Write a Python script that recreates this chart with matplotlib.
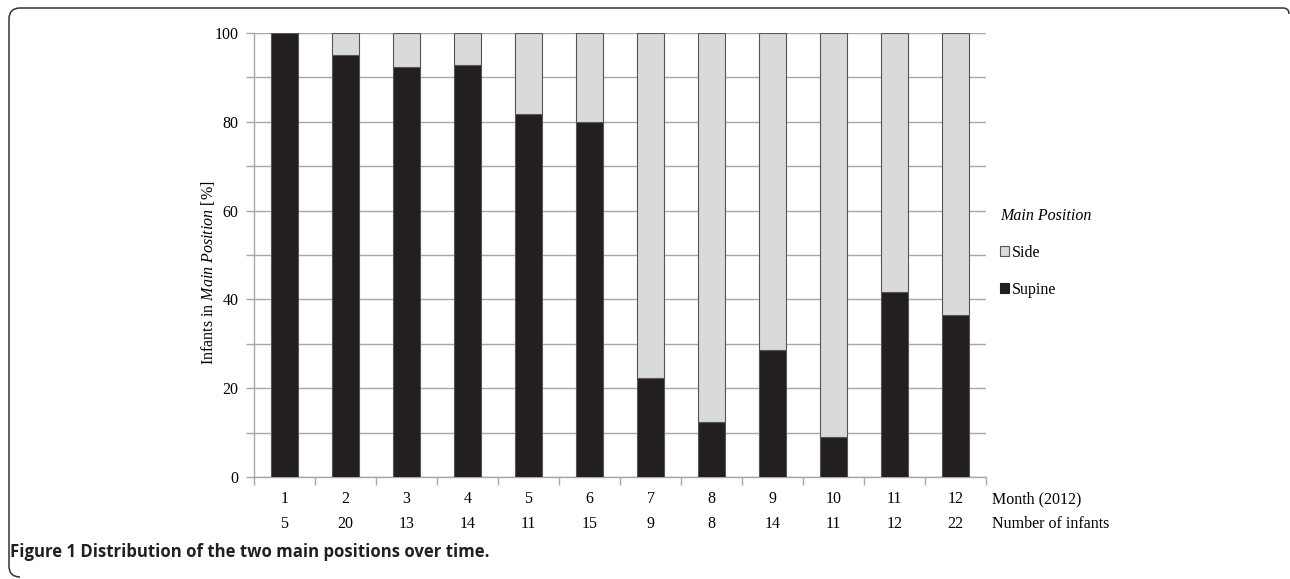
import numpy as np
import matplotlib
matplotlib.use('Agg')
import matplotlib.pyplot as plt
from matplotlib.patches import Patch, PathPatch
from matplotlib.path import Path
from matplotlib.ticker import MultipleLocator
import matplotlib.transforms as mtransforms

rcp = matplotlib.rcParams
rcp['font.family'] = 'Liberation Serif'
rcp['mathtext.fontset'] = 'custom'
rcp['mathtext.rm'] = 'Liberation Serif'
rcp['mathtext.it'] = 'Liberation Serif:italic'

# data: supine share per month, infants per month
months = ['1', '2', '3', '4', '5', '6', '7', '8', '9', '10', '11', '12']
n_infants = ['5', '20', '13', '14', '11', '15', '9', '8', '14', '11', '12', '22']
supine = [100, 95.0, 92.3, 92.9, 81.8, 80.0, 22.2, 12.5, 28.6, 9.1, 41.7, 36.4]
side = [100 - s for s in supine]

dark = '#231f20'
light = '#d9dadb'
grid_c = '#a8a8a8'
fs = 11.5

fig = plt.figure(figsize=(12.9, 5.79), dpi=100)
ax = fig.add_axes([254/1290, 1-477/579, (986-254)/1290, (477-33)/579])

x = np.arange(len(months))
ax.bar(x, supine, width=0.43, color=dark, edgecolor='#555555', linewidth=0.8, zorder=3)
ax.bar(x, side, bottom=supine, width=0.43, color=light, edgecolor='#555555', linewidth=0.8, zorder=3)

ax.set_xlim(-0.5, len(months) - 0.5)
ax.set_ylim(0, 100)
ax.yaxis.set_major_locator(MultipleLocator(20))
ax.yaxis.set_minor_locator(MultipleLocator(10))
ax.grid(axis='y', which='both', color=grid_c, linewidth=1.0, zorder=0)
ax.tick_params(axis='y', which='both', length=6, color=grid_c, width=1.0, labelsize=fs, pad=5)
ax.tick_params(axis='y', which='minor', labelleft=False)

# x ticks at category boundaries, labels drawn as text rows
ax.set_xticks(np.arange(-0.5, len(months)), labels=[])
ax.tick_params(axis='x', length=6, color=grid_c, width=1.0)

for s in ['top', 'right']:
    ax.spines[s].set_visible(False)
for s in ['left', 'bottom']:
    ax.spines[s].set_color(grid_c)
    ax.spines[s].set_linewidth(1.0)

trans = mtransforms.blended_transform_factory(ax.transData, fig.transFigure)
y1 = 1 - 499/579
y2 = 1 - 524/579
for i in range(len(months)):
    ax.text(x[i], y1, months[i], transform=trans, ha='center', va='center', fontsize=fs)
    ax.text(x[i], y2, n_infants[i], transform=trans, ha='center', va='center', fontsize=fs)
fig.text(992/1290, y1, 'Month (2012)', ha='left', va='center', fontsize=fs)
fig.text(992/1290, y2, 'Number of infants', ha='left', va='center', fontsize=fs)

fig.text(208/1290, 1-273/579, r'Infants in $\mathit{Main\ Position}$ [%]',
         rotation=90, ha='center', va='center', fontsize=fs)

handles = [Patch(facecolor=light, edgecolor='#555555', linewidth=0.8, label='Side'),
           Patch(facecolor=dark, edgecolor=dark, linewidth=0.8, label='Supine')]
leg = fig.legend(handles=handles, loc='upper left', bbox_to_anchor=(1000/1290, 1-208/579),
                 frameon=False, fontsize=fs, title='Main Position', alignment='left',
                 handlelength=0.55, handleheight=0.55, handletextpad=0.2, labelspacing=1.3,
                 borderpad=0, borderaxespad=0)
leg.get_title().set_fontstyle('italic')
leg.get_title().set_fontsize(fs)
leg._legend_box.sep = 15

fig.text(10/1290, 1-552/579, 'Figure 1 Distribution of the two main positions over time.',
         fontfamily='Open Sans', fontweight='bold', fontsize=12.1, ha='left', va='center',
         color='#231f20')

# rounded frame around the figure (top and left edges)
verts = [(20, 2), (9, 2), (9, 13), (9, 560), (9, 571), (20, 571),
         (1283, 571), (1289, 571), (1289, 565)]
codes = [Path.MOVETO, Path.CURVE3, Path.CURVE3, Path.LINETO, Path.CURVE3, Path.CURVE3,
         Path.LINETO, Path.CURVE3, Path.CURVE3]
frame = PathPatch(Path(verts, codes), facecolor='none', edgecolor='#333333', linewidth=1.1,
                  transform=mtransforms.Affine2D().scale(1/100) + fig.dpi_scale_trans)
fig.add_artist(frame)

fig.savefig('out.png', dpi=100)
